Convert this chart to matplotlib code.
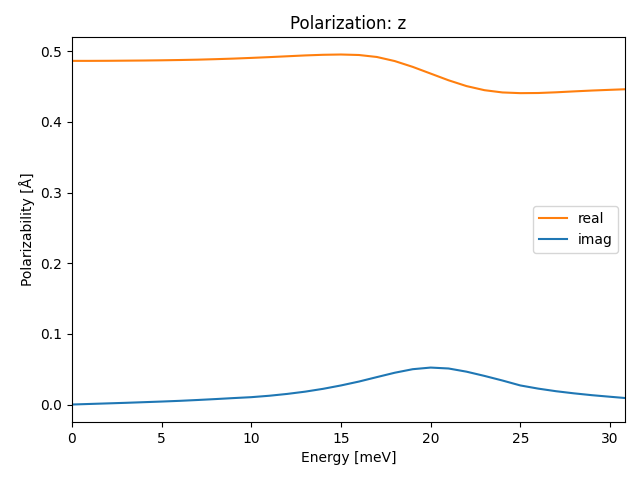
import matplotlib
matplotlib.use("Agg")
import matplotlib.pyplot as plt
import numpy as np

energy = [0, 1, 2, 3, 4, 5, 6, 7, 8, 9, 10, 11, 12, 13, 14, 15, 16, 17, 18,
          19, 20, 21, 22, 23, 24, 25, 26, 27, 28, 29, 30, 30.84]
real = [0.4865, 0.4865, 0.4866, 0.4868, 0.4870, 0.4873, 0.4877, 0.4882,
        0.4889, 0.4897, 0.4907, 0.4918, 0.4930, 0.4942, 0.4951, 0.4955,
        0.4948, 0.4920, 0.4862, 0.4780, 0.4685, 0.4590, 0.4508, 0.4450,
        0.4418, 0.4408, 0.4410, 0.4420, 0.4433, 0.4445, 0.4455, 0.4463]
imag = [0.0000, 0.0008, 0.0016, 0.0024, 0.0033, 0.0042, 0.0052, 0.0064,
        0.0077, 0.0091, 0.0104, 0.0124, 0.0150, 0.0182, 0.0222, 0.0270,
        0.0325, 0.0388, 0.0450, 0.0500, 0.0523, 0.0510, 0.0465, 0.0405,
        0.0340, 0.0270, 0.0225, 0.0188, 0.0158, 0.0132, 0.0110, 0.0092]

fig, ax = plt.subplots(figsize=(6.4, 4.8), dpi=100)
ax.plot(energy, real, color="C1", label="real")
ax.plot(energy, imag, color="C0", label="imag")
ax.set_xlim(0, 30.84)
ax.set_xlabel("Energy [meV]")
ax.set_ylabel("Polarizability [Å]")
ax.set_title("Polarization: z")
ax.legend(loc="center right")
fig.subplots_adjust(left=0.1125, right=0.9766, top=0.9229, bottom=0.1208)
fig.savefig("out.png")
